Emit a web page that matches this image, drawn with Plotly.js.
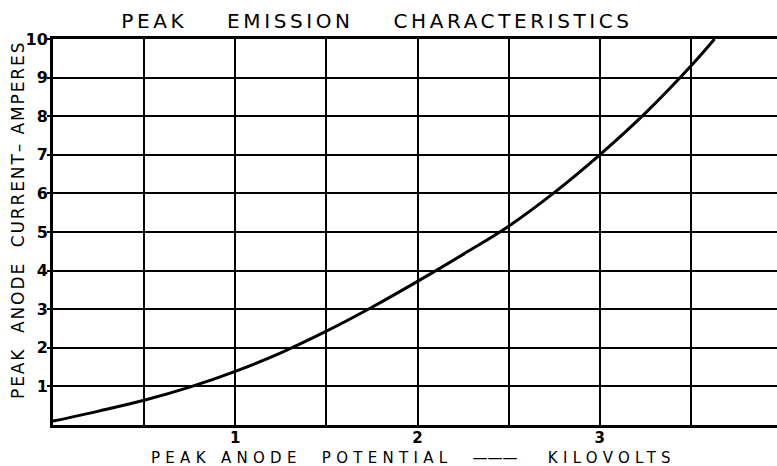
<!DOCTYPE html>
<html><head><meta charset="utf-8">
<script src="https://cdn.plot.ly/plotly-3.0.1.min.js"></script>
<style>
html,body{margin:0;padding:0;overflow:hidden;background:#fff;width:777px;height:466px}
.gtitle{letter-spacing:3.6px}
</style>
</head><body><div id="chart"></div>
<script>
const kilovolts = [0, 0.25, 0.5, 0.75, 1, 1.25, 1.5, 1.75, 2, 2.25, 2.5, 2.75, 3, 3.25, 3.5, 3.63];
const amperes   = [0.1, 0.36, 0.64, 0.98, 1.39, 1.87, 2.43, 3.05, 3.72, 4.42, 5.15, 6.02, 7.0, 8.08, 9.3, 10];
const xTickVals = [0.5, 1, 1.5, 2, 2.5, 3, 3.5, 4];
const xTickText = ['', '1', '', '2', '', '3', '', '4'];
const yTickVals = [1, 2, 3, 4, 5, 6, 7, 8, 9, 10];
const yTickText = ['1', '2', '3', '4', '5', '6', '7', '8', '9', '10'];
const titleText = 'PEAK\u00A0\u00A0\u00A0\u00A0EMISSION\u00A0\u00A0\u00A0\u00A0CHARACTERISTICS';
const xTitleText = '<span style="letter-spacing:5.3px">PEAK\u00A0ANODE\u00A0\u00A0POTENTIAL\u00A0\u00A0</span>———<span style="letter-spacing:5.3px">\u00A0\u00A0\u00A0KILOVOLTS</span>';
const yTitleText = '<span style="letter-spacing:1.9px">PEAK\u00A0\u00A0ANODE\u00A0\u00A0CURRENT–\u00A0AMPERES</span>';
const font = 'DejaVu Sans, Liberation Sans, sans-serif';

const L = 53, R = 3, T = 39, B = 41, W = 785, H = 466;
const plotW = W - L - R, plotH = H - T - B;

Plotly.newPlot('chart', [{
  x: kilovolts, y: amperes, type: 'scatter', mode: 'lines',
  line: {color: '#000', width: 3, shape: 'spline', smoothing: 1},
  hoverinfo: 'skip'
}], {
  width: W, height: H,
  margin: {l: L, r: R, t: T, b: B},
  paper_bgcolor: '#fff', plot_bgcolor: '#fff',
  showlegend: false,
  font: {family: font, color: '#000'},
  title: {text: titleText, x: 377/W, xanchor: 'center', y: 0.971, yanchor: 'top',
          font: {family: font, size: 20, color: '#000'}},
  xaxis: {range: [0, 4], tickvals: xTickVals, ticktext: xTickText, ticks: '', showgrid: true,
          gridcolor: '#000', gridwidth: 2, zeroline: false, showline: true, linecolor: '#000', linewidth: 3, mirror: true,
          ticklabeloverflow: 'allow', ticklabelstandoff: -3,
          tickfont: {family: font, size: 15, color: '#000', weight: 'bold'}},
  yaxis: {range: [0, 10], tickvals: yTickVals, ticktext: yTickText, ticks: 'outside', ticklen: 3, tickwidth: 2, tickcolor: '#000',
          showgrid: true, ticklabelstandoff: -4,
          gridcolor: '#000', gridwidth: 2, zeroline: false, showline: true, linecolor: '#000', linewidth: 3, mirror: true,
          tickfont: {family: font, size: 16, color: '#000', weight: 'bold'}},
  annotations: [
    {text: xTitleText, xref: 'paper', yref: 'paper', x: (413 - L) / plotW, y: (H - B - 457.5) / plotH,
     xanchor: 'center', yanchor: 'middle', showarrow: false, font: {family: font, size: 15, color: '#000'}},
    {text: yTitleText, xref: 'paper', yref: 'paper', x: (18 - L) / plotW, y: (H - B - 220) / plotH,
     xanchor: 'center', yanchor: 'middle', textangle: -90, showarrow: false, font: {family: font, size: 17, color: '#000'}}
  ]
}, {displayModeBar: false, staticPlot: true});
</script></body></html>
